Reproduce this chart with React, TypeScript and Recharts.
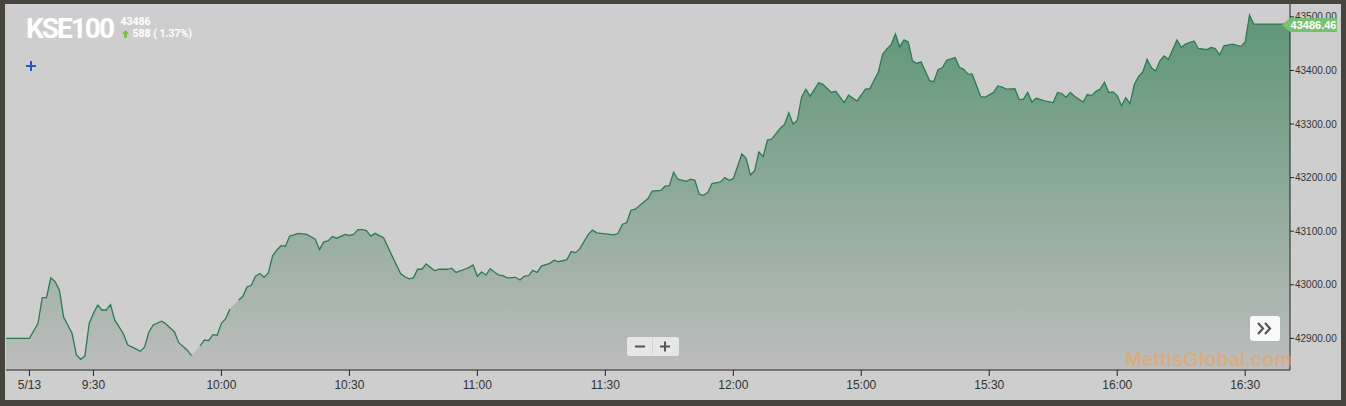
import { ComposedChart, Area, Line, XAxis, YAxis } from "recharts";

// intraday KSE100 ticks (gaps = null, the line breaks there)
const times = [
  "9:09", "9:15", "9:17", "9:18", "9:19", "9:20", "9:21", "9:22", "9:23", "9:25",
  "9:26", "9:27", "9:28", "9:29", "9:30", "9:31", "9:32", "9:33", "9:34", "9:35",
  "9:37", "9:38", "9:40", "9:41", "9:42", "9:43", "9:44", "9:46", "9:47", "9:49",
  "9:50", "9:52", "9:53", "9:54", "9:55", "9:56", "9:57", "9:58", "9:59", "10:00",
  "10:01", "10:02", "10:03", "10:04", "10:05", "10:06", "10:07", "10:08", "10:09", "10:10",
  "10:11", "10:12", "10:13", "10:14", "10:15", "10:16", "10:17", "10:18", "10:20", "10:22",
  "10:23", "10:24", "10:25", "10:26", "10:27", "10:29", "10:30", "10:31", "10:32", "10:33",
  "10:34", "10:35", "10:36", "10:38", "10:40", "10:42", "10:43", "10:44", "10:45", "10:46",
  "10:47", "10:48", "10:50", "10:51", "10:53", "10:54", "10:55", "10:57", "10:58", "10:59",
  "11:00", "11:01", "11:02", "11:03", "11:05", "11:06", "11:07", "11:09", "11:10", "11:11",
  "11:12", "11:13", "11:14", "11:15", "11:17", "11:18", "11:19", "11:21", "11:22", "11:23",
  "11:24", "11:26", "11:27", "11:28", "11:32", "11:33", "11:34", "11:35", "11:36", "11:37",
  "11:40", "11:41", "11:43", "11:44", "11:45", "11:46", "11:47", "11:49", "11:50", "11:51",
  "11:52", "11:53", "11:54", "11:55", "11:57", "11:58", "11:59", "12:00", "12:02", "12:03",
  "12:04", "12:05", "12:06", "12:07", "12:08", "12:09", "12:11", "12:12", "12:13", "12:14",
  "12:15", "12:16", "12:17", "12:18", "12:20", "12:21", "12:23", "12:24", "12:26", "12:27",
  "12:29", "15:01", "15:02", "15:04", "15:05", "15:06", "15:07", "15:08", "15:09", "15:10",
  "15:11", "15:12", "15:13", "15:14", "15:16", "15:17", "15:18", "15:19", "15:20", "15:22",
  "15:23", "15:24", "15:25", "15:26", "15:28", "15:29", "15:31", "15:32", "15:33", "15:34",
  "15:36", "15:37", "15:38", "15:39", "15:40", "15:41", "15:43", "15:45", "15:46", "15:47",
  "15:48", "15:49", "15:50", "15:52", "15:53", "15:54", "15:55", "15:56", "15:57", "15:58",
  "15:59", "16:00", "16:01", "16:02", "16:03", "16:04", "16:05", "16:06", "16:07", "16:08",
  "16:09", "16:10", "16:11", "16:12", "16:14", "16:15", "16:16", "16:18", "16:19", "16:20",
  "16:21", "16:22", "16:23", "16:24", "16:25", "16:27", "16:29", "16:30", "16:31", "16:32",
  "16:41",
];

const prices: (number | null)[] = [
  42900, 42900, 42928, 42976, 42976, 43013, 43006, 42991, 42940, 42909,
  42869, 42861, 42867, 42928, 42947, 42962, 42953, 42953, 42963, 42934,
  42909, 42888, 42880, 42876, 42884, 42912, 42925, 42932, 42927, 42912,
  42892, 42878, 42868, null, 42886, 42897, 42896, 42907, 42906, 42928,
  42937, 42955, null, 42971, 42978, 42996, 42999, 43016, 43021, 43014,
  43022, 43054, 43065, 43073, 43072, 43091, 43093, 43096, 43094, 43085,
  43066, 43080, 43082, 43090, 43087, 43094, 43092, 43094, 43103, 43103,
  43101, 43091, 43096, 43088, 43054, 43021, 43015, 43011, 43013, 43029,
  43029, 43039, 43026, 43029, 43029, 43031, 43023, 43029, 43032, 43037,
  43016, 43024, 43018, 43030, 43018, 43017, 43013, 43014, 43009, 43016,
  43017, 43027, 43023, 43035, 43040, 43046, 43043, 43047, 43062, 43060,
  43067, 43094, 43102, 43097, 43093, 43096, 43113, 43116, 43139, 43141,
  43161, 43175, 43176, 43184, 43185, 43210, 43197, 43193, 43197, 43195,
  43169, 43167, 43172, 43189, 43192, 43200, 43195, 43198, 43244, 43236,
  43205, 43213, 43248, 43239, 43270, 43272, 43292, 43299, 43321, 43300,
  43307, 43350, 43365, 43352, 43377, 43374, 43359, 43361, 43340, 43354,
  43343, 43365, 43366, 43397, 43430, 43440, 43448, 43468, 43444, 43457,
  43453, 43418, 43413, 43416, 43381, 43379, 43402, 43405, 43419, 43424,
  43406, 43402, 43393, 43393, 43351, 43350, 43359, 43371, 43369, 43365,
  43366, 43346, 43346, 43359, 43341, 43348, 43343, 43340, 43359, 43357,
  43350, 43359, 43352, 43341, 43355, 43353, 43361, 43365, 43378, 43359,
  43360, 43353, 43334, 43349, 43338, 43374, 43389, 43397, 43421, 43405,
  43399, 43418, 43427, 43421, 43457, 43443, 43449, 43455, 43441, 43440,
  43439, 43443, 43441, 43429, 43446, 43449, 43445, 43453, 43503, 43486.46,
  43486.46,
];

const xTickTimes = ["9:15", "9:30", "10:00", "10:30", "11:00", "11:30", "12:00", "15:00", "15:30", "16:00", "16:30"];
const xTickLabels = ["5/13", "9:30", "10:00", "10:30", "11:00", "11:30", "12:00", "15:00", "15:30", "16:00", "16:30"];
const yTicks = [42900, 43000, 43100, 43200, 43300, 43400, 43500];

const symbol = "KSE100";
const lastClose = "43486";
const change = "588 ( 1.37%)";
const lastPrice = 43486.46;

// session minutes since 9:00, lunch gap (12:30-15:00) squeezed out
function toMinute(t: string) {
  const [h, m] = t.split(":").map(Number);
  const mins = h * 60 + m - 540;
  return h >= 15 ? mins - 150 : mins;
}

const data = times.map((t, i) => ({ t: toMinute(t), p: prices[i] }));
const xTicks = xTickTimes.map(toMinute);

const W = 1336;
const H = 396;

export default function App() {
  return (
    <div
      style={{
        position: "fixed",
        left: 0,
        top: 0,
        width: 1346,
        height: 406,
        background: "#47433e",
        fontFamily: "'Liberation Sans', Arial, sans-serif",
      }}
    >
      <div style={{ position: "absolute", left: 5, top: 4, width: W, height: H, background: "#cecece" }}>
        <ComposedChart width={W} height={H} data={data} margin={{ top: 0, right: 0, bottom: 0, left: 1 }}>
          <defs>
            <linearGradient id="kseFill" x1="0" y1="0" x2="0" y2="1">
              <stop offset="0%" stopColor="#5e9676" />
              <stop offset="100%" stopColor="#bdbdbd" />
            </linearGradient>
          </defs>
          <XAxis
            dataKey="t"
            type="number"
            domain={[9.5, 310.5]}
            allowDataOverflow
            ticks={xTicks}
            tickFormatter={(v: number) => xTickLabels[xTicks.indexOf(v)] ?? ""}
            height={30}
            tickSize={6}
            tickMargin={4}
            stroke="#222"
            tick={{ fill: "#333", fontSize: 12 }}
          />
          <YAxis
            orientation="right"
            type="number"
            domain={[42841, 43524]}
            allowDataOverflow
            ticks={yTicks}
            width={51}
            tickSize={4}
            tickMargin={1}
            stroke="#222"
            tick={{ fill: "#333", fontSize: 10 }}
            tickFormatter={(v: number) => v.toFixed(2)}
          />
          <Area
            dataKey="p"
            type="linear"
            connectNulls
            stroke="none"
            fill="url(#kseFill)"
            fillOpacity={1}
            isAnimationActive={false}
          />
          <Line
            dataKey="p"
            type="linear"
            stroke="#2b7c53"
            strokeWidth={1.3}
            dot={false}
            activeDot={false}
            isAnimationActive={false}
          />
        </ComposedChart>

        <svg
          width={W}
          height={H}
          style={{ position: "absolute", left: 0, top: 0, pointerEvents: "none" }}
        >
          {/* title block */}
          <text x={21} y={33.5} fill="#fff" fontFamily="Roboto, sans-serif" fontWeight={700} fontSize={28} letterSpacing={-2}>
            {symbol}
          </text>
          <text x={115.5} y={21} fill="#fff" fontFamily="Roboto, sans-serif" fontWeight={700} fontSize={10.5}>
            {lastClose}
          </text>
          <path d="M120.5,26 L124,30 L122,30 L122,34 L119,34 L119,30 L117,30 Z" fill="#7cc043" />
          <text x={127.5} y={33} fill="#fff" fontFamily="Roboto, sans-serif" fontWeight={700} fontSize={10.5}>
            {change}
          </text>

          {/* blue crosshair icon */}
          <rect x={21} y={61} width={10} height={2} fill="#2457c5" />
          <rect x={25} y={57} width={2} height={10} fill="#2457c5" />

          {/* last price tag */}
          <path d="M1277,21 L1285,14 L1332,14 L1332,28 L1285,28 Z" fill="#77c06d" />
          <text x={1308.5} y={25} textAnchor="middle" fill="#fff" fontWeight={700} fontSize={11}>
            {lastPrice.toFixed(2)}
          </text>

          {/* watermark */}
          <text x={1287} y={362} textAnchor="end" fill="#f0a050" fillOpacity={0.55} fontWeight={700} fontSize={20}>
            MettisGlobal.com
          </text>

          {/* zoom buttons */}
          <rect x={622} y={333} width={52} height={19} rx={2} fill="#e6e6e6" />
          <line x1={647.5} y1={334} x2={647.5} y2={351} stroke="#d2d2d2" />
          <rect x={630} y={341.5} width={10} height={2} fill="#555" />
          <rect x={655} y={341.5} width={10} height={2} fill="#555" />
          <rect x={659} y={337.5} width={2} height={10} fill="#555" />

          {/* scroll button */}
          <rect x={1245} y={312} width={30} height={25} rx={3} fill="#fafafa" />
          <polyline points="1253,319 1258,324.5 1253,330" fill="none" stroke="#555" strokeWidth={2.2} />
          <polyline points="1260,319 1265,324.5 1260,330" fill="none" stroke="#555" strokeWidth={2.2} />
        </svg>
      </div>
    </div>
  );
}
